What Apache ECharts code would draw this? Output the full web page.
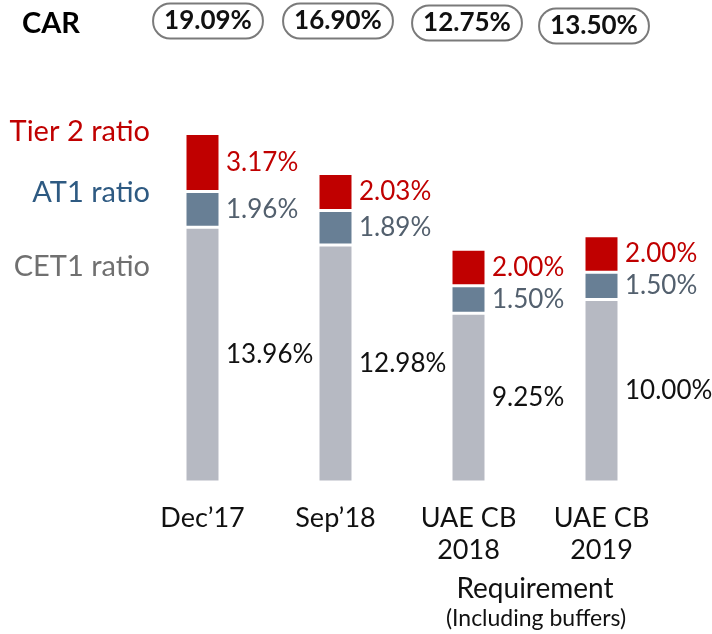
<!DOCTYPE html>
<html>
<head>
<meta charset="utf-8">
<script src="https://cdn.jsdelivr.net/npm/echarts@6/dist/echarts.min.js"></script>
<style>
  html, body { margin: 0; padding: 0; background: #fff; }
  #chart { width: 712px; height: 634px; }
</style>
</head>
<body>
<div id="chart"></div>
<script>
// 数据
const categories = ['Dec\u201917', 'Sep\u201918', 'UAE CB\n2018', 'UAE CB\n2019']
const cet1 = [13.96, 12.98, 9.25, 10.00]
const at1 = [1.96, 1.89, 1.50, 1.50]
const tier2 = [3.17, 2.03, 2.00, 2.00]
const car = ['19.09%', '16.90%', '12.75%', '13.50%']
const seriesNames = ['CET1 ratio', 'AT1 ratio', 'Tier 2 ratio']

const FONT = 'Lato, "Open Sans", sans-serif'
const chart = echarts.init(document.getElementById('chart'))

// CAR 圆角框的位置
const carX = [208, 338, 467, 594]
const carY = [21, 21, 23, 26]

function segment(name, data, color, labelColor) {
  return {
    name: name,
    type: 'bar',
    stack: 'cap',
    barWidth: 35,
    data: data,
    itemStyle: { color: color, borderColor: '#fff', borderWidth: 1.5 },
    label: {
      show: true,
      position: 'right',
      distance: 6,
      color: labelColor,
      fontFamily: FONT,
      fontSize: 26,
      formatter: p => p.value.toFixed(2) + '%'
    }
  }
}

const option = {
  animation: false,
  grid: { left: 136, right: 44, top: 117, bottom: 152 },
  xAxis: {
    type: 'category',
    data: categories,
    axisLine: { show: false },
    axisTick: { show: false },
    axisLabel: {
      margin: 20,
      color: '#111',
      fontFamily: FONT,
      fontSize: 27,
      lineHeight: 32,
      verticalAlign: 'top',
      interval: 0
    }
  },
  yAxis: { type: 'value', min: 0, max: 20, show: false },
  series: [
    segment(seriesNames[0], cet1, '#b6b9c2', '#111'),
    segment(seriesNames[1], at1, '#687f95', '#53606e'),
    segment(seriesNames[2], tier2, '#c00000', '#c00000')
  ],
  graphic: [
    {
      type: 'text', x: 22, y: 24,
      style: { text: 'CAR', font: 'bold 29px ' + FONT, fill: '#000', verticalAlign: 'middle' }
    },
    ...car.map((t, i) => ({
      type: 'text', x: carX[i], y: carY[i],
      style: {
        text: t, font: 'bold 26px ' + FONT, fill: '#111',
        align: 'center', verticalAlign: 'middle',
        borderColor: '#7a7a7a', borderWidth: 2, borderRadius: 16,
        padding: [4, 10, 3, 10], backgroundColor: '#fff'
      }
    })),
    {
      type: 'text', x: 150, y: 132,
      style: { text: 'Tier 2 ratio', font: '29px ' + FONT, fill: '#c00000', align: 'right', verticalAlign: 'middle' }
    },
    {
      type: 'text', x: 150, y: 193,
      style: { text: 'AT1 ratio', font: '29px ' + FONT, fill: '#2e5a82', align: 'right', verticalAlign: 'middle' }
    },
    {
      type: 'text', x: 150, y: 267,
      style: { text: 'CET1 ratio', font: '29px ' + FONT, fill: '#707070', align: 'right', verticalAlign: 'middle' }
    },
    {
      type: 'text', x: 535, y: 589,
      style: { text: 'Requirement', font: '28px ' + FONT, fill: '#111', align: 'center', verticalAlign: 'middle' }
    },
    {
      type: 'text', x: 536, y: 619,
      style: { text: '(Including buffers)', font: '23px ' + FONT, fill: '#111', align: 'center', verticalAlign: 'middle' }
    }
  ]
}

chart.setOption(option)
</script>
</body>
</html>
